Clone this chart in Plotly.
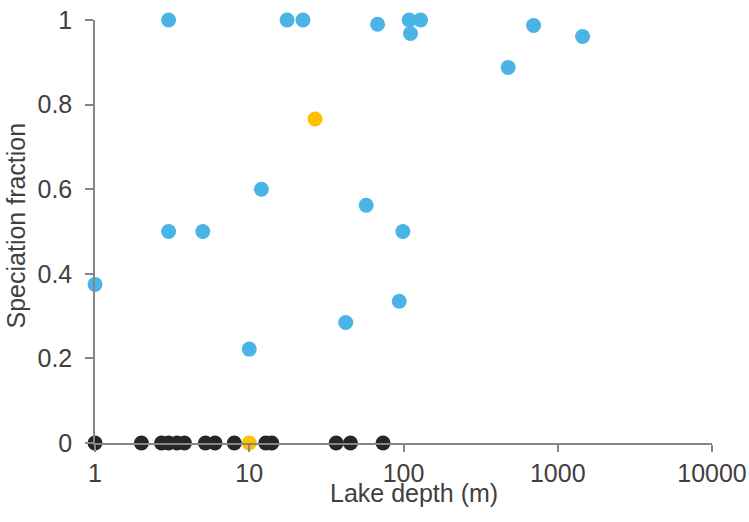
import plotly.graph_objects as go

# Lakes with speciation (blue)
blue_depth = [1, 3, 3, 5, 10, 12, 17.6, 22.3, 42.2, 57.3, 67.9, 93.8, 99.1, 108.9, 111, 129, 477, 697, 1449]
blue_frac = [0.375, 1, 0.5, 0.5, 0.222, 0.6, 1, 1, 0.285, 0.562, 0.99, 0.335, 0.5, 1, 0.968, 1, 0.888, 0.987, 0.961]

# Lakes without speciation (black)
black_depth = [1, 2, 2.7, 3, 3.4, 3.8, 5.2, 6, 8, 12.8, 14, 36.6, 45.3, 73.7]
black_frac = [0] * len(black_depth)

# Highlighted lakes (yellow)
yellow_depth = [10, 26.7]
yellow_frac = [0, 0.766]

x_ticks = [1, 10, 100, 1000, 10000]
y_ticks = [0, 0.2, 0.4, 0.6, 0.8, 1]

fig = go.Figure()
fig.add_trace(go.Scatter(x=black_depth, y=black_frac, mode="markers", cliponaxis=False,
                         marker=dict(color="#262626", size=15), showlegend=False))
fig.add_trace(go.Scatter(x=blue_depth, y=blue_frac, mode="markers", cliponaxis=False,
                         marker=dict(color="#4BB4E6", size=15), showlegend=False))
fig.add_trace(go.Scatter(x=yellow_depth, y=yellow_frac, mode="markers", cliponaxis=False,
                         marker=dict(color="#FFC000", size=15), showlegend=False))

axis_font = dict(family="Liberation Sans, Arial, sans-serif", size=25, color="#404040")
fig.update_layout(
    width=749, height=522,
    margin=dict(l=95, r=37, t=20, b=79, pad=0),
    paper_bgcolor="white", plot_bgcolor="white",
    font=axis_font,
    xaxis=dict(type="log", range=[0, 4], tickvals=x_ticks, ticktext=[str(v) for v in x_ticks],
               showgrid=False, zeroline=False, showline=True, linecolor="#868686", linewidth=1.5,
               ticks="outside", ticklen=7, tickcolor="#868686", tickwidth=1.5,
               tickfont=axis_font, ticklabelstandoff=0, automargin=False,
               ticklabeloverflow="allow"),
    yaxis=dict(range=[0, 1], tickvals=y_ticks, ticktext=["0", "0.2", "0.4", "0.6", "0.8", "1"],
               showgrid=False, zeroline=False, showline=True, linecolor="#868686", linewidth=1.5,
               ticks="outside", ticklen=8, tickcolor="#868686", tickwidth=1.5,
               tickfont=axis_font, ticklabelstandoff=8, automargin=False,
               ticklabeloverflow="allow"),
    annotations=[
        dict(text="Lake depth (m)", xref="paper", yref="paper", x=(414 - 95) / 617, y=-(493 - 443) / 423,
             xanchor="center", yanchor="middle", showarrow=False, font=axis_font),
        dict(text="Speciation fraction", xref="paper", yref="paper", x=(15.5 - 95) / 617, y=(443 - 226) / 423,
             xanchor="center", yanchor="middle", textangle=-90, showarrow=False, font=axis_font),
    ],
)

# remove the default page margin so the figure sits at the window's top-left corner
fig.write_html("out.html", config={"displayModeBar": False},
               post_script="document.body.style.margin='0';")
